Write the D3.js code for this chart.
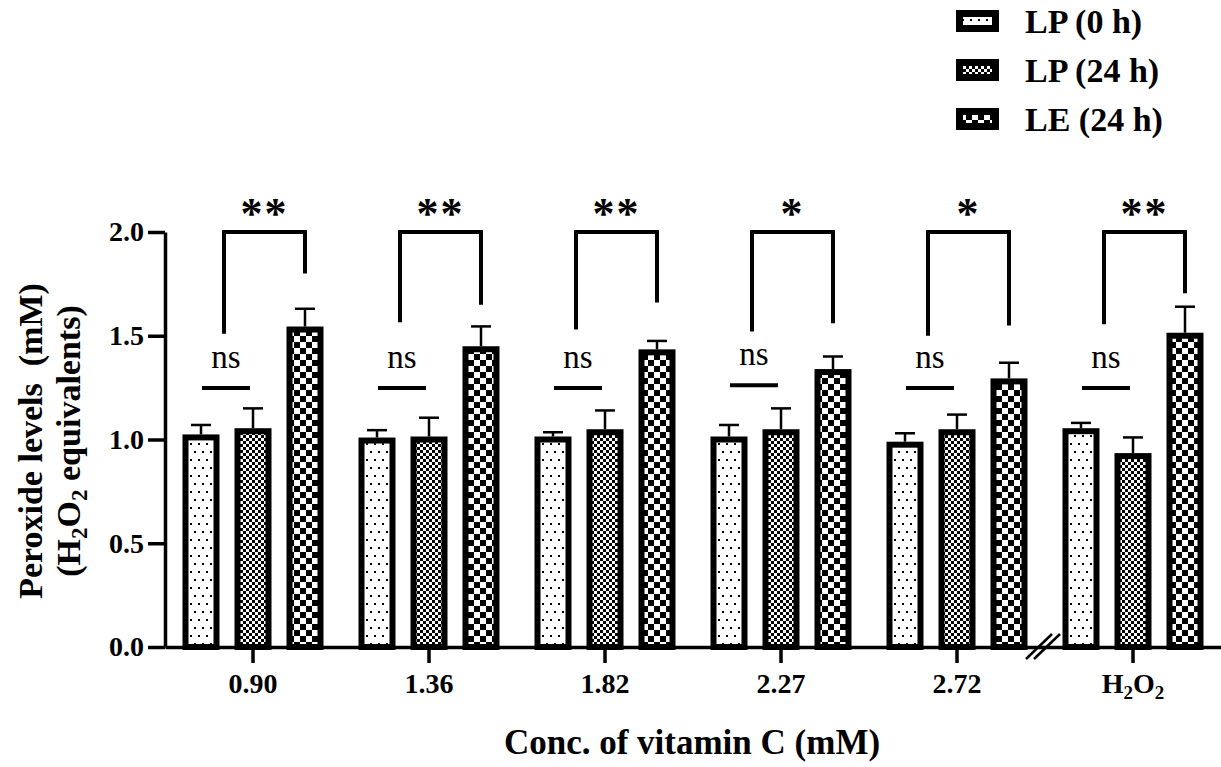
<!DOCTYPE html>
<html>
<head>
<meta charset="utf-8">
<script src="https://cdn.jsdelivr.net/npm/d3@7"></script>
<style>
  body { margin: 0; background: #fff; }
  svg { display: block; }
  text { font-family: "Liberation Serif", "Times New Roman", serif; }
</style>
</head>
<body>
<div id="chart"></div>
<script>
// groups on the x axis and the three series
const groups = ["0.90", "1.36", "1.82", "2.27", "2.72", "H2O2"];
const series = ["LP (0 h)", "LP (24 h)", "LE (24 h)"];

// mean values (mM) and error bars
const lp0 = [1.01, 0.995, 1.00, 1.00, 0.975, 1.04];
const lp0Err = [0.06, 0.05, 0.035, 0.07, 0.055, 0.04];
const lp24 = [1.04, 1.00, 1.035, 1.035, 1.035, 0.92];
const lp24Err = [0.11, 0.105, 0.105, 0.115, 0.085, 0.09];
const le24 = [1.53, 1.435, 1.42, 1.325, 1.28, 1.50];
const le24Err = [0.10, 0.11, 0.055, 0.075, 0.09, 0.14];

// significance annotations
const sigLabels = ["**", "**", "**", "*", "*", "**"];
const bracketLeftEnd = [1.51, 1.565, 1.53, 1.52, 1.50, 1.555];
const bracketRightEnd = [1.80, 1.65, 1.66, 1.56, 1.55, 1.705];
const nsLevel = [1.248, 1.248, 1.248, 1.262, 1.248, 1.248];
const yTicks = [0, 0.5, 1.0, 1.5, 2.0];

const width = 1221, height = 767;
const svg = d3.select("#chart").append("svg")
    .attr("width", width)
    .attr("height", height);

// fill patterns
const defs = svg.append("defs");
function addPattern(id, w, h, cells) {
    const p = defs.append("pattern")
        .attr("id", id)
        .attr("patternUnits", "userSpaceOnUse")
        .attr("width", w)
        .attr("height", h);
    p.append("rect").attr("width", w).attr("height", h).attr("fill", "#fff");
    cells.forEach(c => p.append("rect")
        .attr("x", c[0]).attr("y", c[1])
        .attr("width", c[2]).attr("height", c[3])
        .attr("fill", "#000"));
}
addPattern("dots", 8, 16, [[2, 3, 2, 2], [6, 11, 2, 2]]);
addPattern("fine", 6, 6, [[0, 0, 3, 3], [3, 3, 3, 3]]);
addPattern("check", 12, 12, [[0, 0, 6, 6], [6, 6, 6, 6]]);
const fills = ["url(#dots)", "url(#fine)", "url(#check)"];

// scales
const x = d3.scaleBand().domain(groups).range([165, 1221]).padding(0);
const inner = d3.scalePoint().domain(series).range([-52, 52]);
const y = d3.scaleLinear().domain([0, 2]).range([647, 232]);
const cx = g => x(g) + x.bandwidth() / 2;

const values = [lp0, lp24, le24];
const errs = [lp0Err, lp24Err, le24Err];
const rows = [];
groups.forEach((g, i) => series.forEach((s, j) => rows.push({
    group: g, series: s, si: j, value: values[j][i], err: errs[j][i]
})));

// axes
const yAxis = svg.append("g")
    .attr("transform", "translate(165,0)")
    .call(d3.axisLeft(y).tickValues(yTicks).tickFormat(d3.format(".1f"))
        .tickSize(17).tickSizeOuter(0).tickPadding(4));
yAxis.select(".domain").attr("stroke-width", 3.5);
yAxis.selectAll(".tick line").attr("stroke-width", 3.5);
yAxis.selectAll(".tick text")
    .attr("font-family", "Liberation Serif")
    .attr("font-weight", "bold")
    .attr("font-size", 28)
    .attr("fill", "#000");

// bars
const bars = svg.append("g");
bars.selectAll("rect")
    .data(rows)
    .enter().append("rect")
    .attr("x", d => cx(d.group) + inner(d.series) - 15.5)
    .attr("y", d => y(d.value))
    .attr("width", 31)
    .attr("height", d => y(0) - y(d.value))
    .attr("fill", d => fills[d.si])
    .attr("stroke", "#000")
    .attr("stroke-width", 6);

// error bars
const eb = svg.append("g").attr("stroke", "#000").attr("stroke-width", 2.5);
eb.selectAll(".stem")
    .data(rows)
    .enter().append("line")
    .attr("x1", d => cx(d.group) + inner(d.series))
    .attr("x2", d => cx(d.group) + inner(d.series))
    .attr("y1", d => y(d.value) - 3)
    .attr("y2", d => y(d.value + d.err));
eb.selectAll(".cap")
    .data(rows)
    .enter().append("line")
    .attr("x1", d => cx(d.group) + inner(d.series) - 10)
    .attr("x2", d => cx(d.group) + inner(d.series) + 10)
    .attr("y1", d => y(d.value + d.err))
    .attr("y2", d => y(d.value + d.err));

const xAxis = svg.append("g")
    .attr("transform", "translate(0,647)")
    .call(d3.axisBottom(x).tickSize(16).tickSizeOuter(0).tickPadding(4));
xAxis.select(".domain").attr("stroke-width", 3.5);
xAxis.selectAll(".tick line").attr("stroke-width", 3.5);
xAxis.selectAll(".tick text")
    .attr("font-family", "Liberation Serif")
    .attr("font-weight", "bold")
    .attr("font-size", 28)
    .attr("fill", "#000")
    .attr("dy", null)
    .attr("y", 46)
    .each(function(d) {
        if (d !== "H2O2") return;
        const t = d3.select(this).text("");
        t.append("tspan").text("H");
        t.append("tspan").attr("font-size", 19).attr("dy", 6).text("2");
        t.append("tspan").attr("dy", -6).text("O");
        t.append("tspan").attr("font-size", 19).attr("dy", 6).text("2");
    });

// axis break marks
const brk = (cx("2.72") + cx("H2O2")) / 2 - 2;
svg.append("g").attr("stroke", "#000").attr("stroke-width", 2.5)
    .selectAll("line")
    .data([-4, 4])
    .enter().append("line")
    .attr("x1", d => brk + d - 13).attr("y1", 659)
    .attr("x2", d => brk + d + 13).attr("y2", 634);

// "ns" comparisons between the two LP bars
const ann = svg.append("g");
groups.forEach((g, i) => {
    const c = cx(g);
    ann.append("line")
        .attr("x1", c - 51).attr("x2", c - 3)
        .attr("y1", y(nsLevel[i])).attr("y2", y(nsLevel[i]))
        .attr("stroke", "#000").attr("stroke-width", 4);
    ann.append("text")
        .attr("x", c - 27)
        .attr("y", y(nsLevel[i]) - 20)
        .attr("text-anchor", "middle")
        .attr("font-size", 33)
        .text("ns");

    // bracket to the LE bar
    const xl = c - 29, xr = c + inner("LE (24 h)");
    ann.append("path")
        .attr("d", `M${xl},${y(bracketLeftEnd[i])}V${y(2)}H${xr}V${y(bracketRightEnd[i])}`)
        .attr("fill", "none")
        .attr("stroke", "#000")
        .attr("stroke-width", 4);
    ann.append("text")
        .attr("x", (xl + xr) / 2)
        .attr("y", 228)
        .attr("text-anchor", "middle")
        .attr("font-family", "Liberation Sans")
        .attr("font-weight", "bold")
        .attr("font-size", 44)
        .attr("letter-spacing", 2)
        .text(sigLabels[i]);
});

// axis titles
svg.append("text")
    .attr("x", 692).attr("y", 754)
    .attr("text-anchor", "middle")
    .attr("font-weight", "bold")
    .attr("font-size", 35)
    .text("Conc. of vitamin C (mM)");

const yt = svg.append("g").attr("transform", "translate(0,441) rotate(-90)")
    .attr("text-anchor", "middle")
    .attr("font-weight", "bold")
    .attr("font-size", 34);
yt.append("text").attr("x", 0).attr("y", 42)
    .style("white-space", "pre")
    .text("Peroxide levels  (mM)");
const l2 = yt.append("text").attr("x", 0).attr("y", 80);
l2.append("tspan").text("(H");
l2.append("tspan").attr("font-size", 23).attr("dy", 7).text("2");
l2.append("tspan").attr("dy", -7).text("O");
l2.append("tspan").attr("font-size", 23).attr("dy", 7).text("2");
l2.append("tspan").attr("dy", -7).text(" equivalents)");

// legend
const legend = svg.append("g");
series.forEach((s, i) => {
    const ly = 10 + i * 49;
    legend.append("rect")
        .attr("x", 956 + 3.5).attr("y", ly + 3.5)
        .attr("width", 36).attr("height", 15)
        .attr("fill", fills[i])
        .attr("stroke", "#000")
        .attr("stroke-width", 7);
    legend.append("text")
        .attr("x", 1025).attr("y", ly + 23)
        .attr("font-weight", "bold")
        .attr("font-size", 34)
        .text(s);
});
</script>
</body>
</html>
